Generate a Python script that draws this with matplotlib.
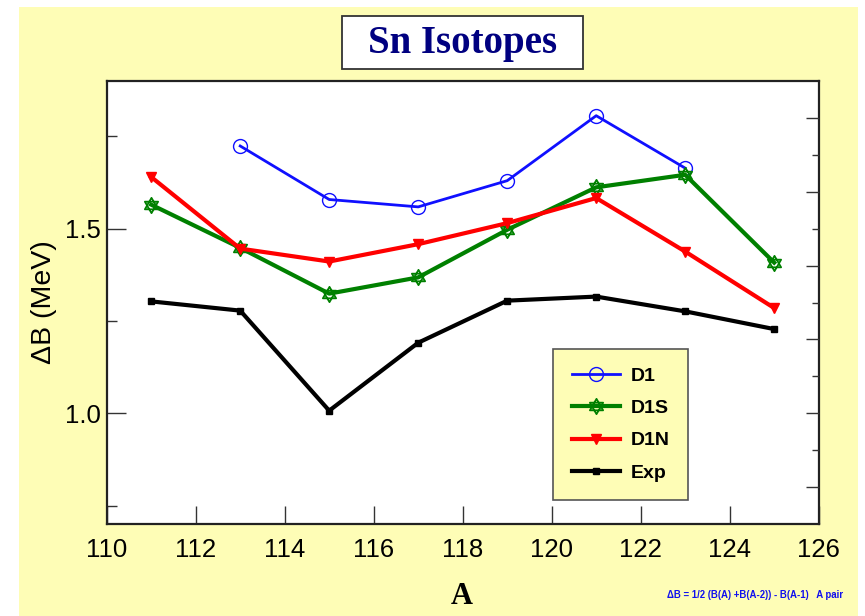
import matplotlib
matplotlib.use("Agg")
import matplotlib.pyplot as plt
from matplotlib.patches import Rectangle
from matplotlib.path import Path
from matplotlib.ticker import FixedLocator

# Pairing gap Delta B for even Sn isotopes (MeV)
mass_d1 = [113, 115, 117, 119, 121, 123]
gap_d1 = [1.724, 1.579, 1.559, 1.630, 1.806, 1.664]

mass_all = [111, 113, 115, 117, 119, 121, 123, 125]
gap_d1s = [1.565, 1.448, 1.324, 1.368, 1.497, 1.612, 1.646, 1.408]
gap_d1n = [1.640, 1.446, 1.411, 1.458, 1.515, 1.583, 1.438, 1.285]
gap_exp = [1.303, 1.278, 1.007, 1.191, 1.305, 1.316, 1.276, 1.228]

x_ticks = [110, 112, 114, 116, 118, 120, 122, 124, 126]

YELLOW = "#FEFDB6"
SANS = "Liberation Sans"
SERIF = "Liberation Serif"

# six-pointed star: two overlapping triangles
tri_up = [(0, 1), (-0.866, -0.5), (0.866, -0.5), (0, 1)]
tri_dn = [(0, -1), (-0.866, 0.5), (0.866, 0.5), (0, -1)]
star_verts = tri_up + tri_dn
star_codes = ([Path.MOVETO, Path.LINETO, Path.LINETO, Path.CLOSEPOLY] * 2)
star6 = Path(star_verts, star_codes)

fig = plt.figure(figsize=(8.65, 6.16), dpi=100)
fig.patch.set_facecolor("white")
fig.patches.append(Rectangle((19 / 865, 0), (858 - 19) / 865, 1 - 7 / 616,
                             transform=fig.transFigure, facecolor=YELLOW,
                             edgecolor="none", zorder=-10))

ax = fig.add_axes([106.7 / 865, 1 - 524 / 616, 712 / 865, 443 / 616])
ax.set_facecolor("white")

ax.plot(mass_d1, gap_d1, color="#1010ff", lw=2.0, marker="o", ms=10,
        mfc="none", mec="#1010ff", mew=1.0, label="D1", zorder=3)
ax.plot(mass_all, gap_d1s, color="#008000", lw=3.0, marker=star6, ms=11,
        mfc="none", mec="#008000", mew=1.3, label="D1S", zorder=4)
ax.plot(mass_all, gap_d1n, color="#ff0000", lw=3.0, marker="v", ms=7,
        mfc="#ff0000", mec="#ff0000", label="D1N", zorder=5)
ax.plot(mass_all, gap_exp, color="black", lw=3.0, marker="s", ms=5,
        mfc="black", mec="black", label="Exp", zorder=6)

ax.set_xlim(110, 126)
ax.set_ylim(0.7, 1.9)
ax.xaxis.set_major_locator(FixedLocator(x_ticks))
ax.yaxis.set_major_locator(FixedLocator([1.0, 1.5]))
ax.yaxis.set_minor_locator(FixedLocator([0.75, 1.25, 1.75]))
ax.set_yticklabels(["1.0", "1.5"])
ax.tick_params(axis="x", which="major", direction="in", length=13, width=1.0,
               color="#333333", labelsize=18.5, pad=10, top=False)
ax.tick_params(axis="y", which="major", direction="in", length=14, width=1.0,
               color="#333333", labelsize=18.5, pad=4, right=False)
ax.tick_params(axis="y", which="minor", direction="in", length=7, width=1.0,
               color="#333333", right=False)
for lab in ax.get_xticklabels() + ax.get_yticklabels():
    lab.set_fontfamily(SANS)

for sp in ax.spines.values():
    sp.set_linewidth(1.6)
    sp.set_color("#222222")

# right-hand tick scale without labels
axr = ax.twinx()
axr.set_ylim(0.7, 1.9)
axr.yaxis.set_major_locator(FixedLocator([0.8, 1.0, 1.2, 1.4, 1.6, 1.8]))
axr.yaxis.set_minor_locator(FixedLocator([0.9, 1.1, 1.3, 1.5, 1.7]))
axr.tick_params(axis="y", which="major", direction="in", length=9.5,
                width=1.0, color="#333333", labelright=False)
axr.tick_params(axis="y", which="minor", direction="in", length=5,
                width=1.0, color="#333333")
for sp in axr.spines.values():
    sp.set_visible(False)

ax.set_ylabel("ΔB (MeV)", fontsize=20.5, family=SANS, labelpad=6)

leg = ax.legend(loc="upper left", bbox_to_anchor=(0.627, 0.395),
                prop={"family": SANS, "weight": "bold", "size": 14},
                frameon=True, fancybox=False, framealpha=1.0,
                facecolor=YELLOW, edgecolor="#555555",
                handlelength=2.5, handletextpad=0.55, labelspacing=0.75,
                borderpad=0.95, borderaxespad=0.0)
leg.get_frame().set_linewidth(1.2)

# title box
fig.patches.append(Rectangle((341.7 / 865, 1 - 69.3 / 616), 241.3 / 865,
                             53.6 / 616, transform=fig.transFigure,
                             facecolor="white", edgecolor="#333333", lw=1.3,
                             zorder=5))
fig.text(462.3 / 865, 1 - 43 / 616, "Sn Isotopes", ha="center", va="center",
         family=SERIF, weight="bold", size=28, color="#000080", zorder=6)

fig.text(462 / 865, 1 - 597 / 616, "A", ha="center", va="center",
         family=SERIF, weight="bold", size=22, color="black")

fig.text(755.5 / 865, 1 - 595 / 616,
         "ΔB = 1/2 (B(A) +B(A-2)) - B(A-1)   A pair", ha="center",
         va="center", family=SANS, weight="bold", size=6.9, color="#1010ee")

fig.savefig("out.png", dpi=100, facecolor=fig.get_facecolor())
